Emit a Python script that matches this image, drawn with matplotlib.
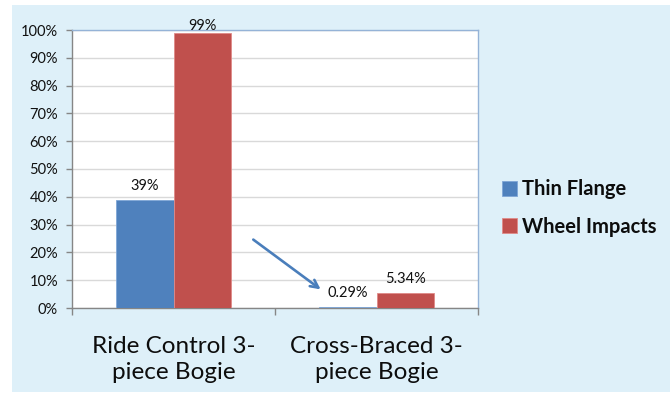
import matplotlib
matplotlib.use("Agg")
import matplotlib.pyplot as plt
from matplotlib.patches import Rectangle
import numpy as np

categories = ["Ride Control 3-\npiece Bogie", "Cross-Braced 3-\npiece Bogie"]
series_names = ["Thin Flange", "Wheel Impacts"]
thin_flange = [0.39, 0.0029]
wheel_impacts = [0.99, 0.0534]
label_text = [["39%", "0.29%"], ["99%", "5.34%"]]
y_ticks = [0.0, 0.1, 0.2, 0.3, 0.4, 0.5, 0.6, 0.7, 0.8, 0.9, 1.0]
y_tick_labels = ["0%", "10%", "20%", "30%", "40%", "50%", "60%", "70%", "80%", "90%", "100%"]

BLUE = "#4F81BD"
RED = "#C0504D"
PANEL = "#DEF0F9"
FONT = "Lato"

plt.rcParams["font.family"] = [FONT, "DejaVu Sans"]

fig = plt.figure(figsize=(6.72, 3.94), dpi=100, facecolor="white")
fig.patches.append(Rectangle((12 / 672, 1 - 392 / 394), 658 / 672, 387 / 394,
                             transform=fig.transFigure, facecolor=PANEL,
                             edgecolor="none", zorder=-5))

ax = fig.add_axes([72 / 672, 1 - 308 / 394, 406 / 672, 278 / 394])
ax.set_facecolor("white")

x = np.arange(len(categories))
w = 0.285
bars_a = ax.bar(x - w / 2, thin_flange, w, color=BLUE, edgecolor="#7FA6D6",
                linewidth=0.6, label=series_names[0], zorder=3)
bars_b = ax.bar(x + w / 2, wheel_impacts, w, color=RED, edgecolor="#E08A88",
                linewidth=0.6, label=series_names[1], zorder=3)

# value labels just above each bar, kept inside the plot area
for offs, vals, texts in ((-w / 2, thin_flange, label_text[0]),
                          (w / 2, wheel_impacts, label_text[1])):
    for xi, v, t in zip(x, vals, texts):
        ax.text(xi + offs, min(v + 0.036, 1.0), t, ha="center", va="baseline",
                fontsize=10.5, color="#111111", zorder=4)

ax.set_xlim(-0.5, 1.5)
ax.set_ylim(0, 1)
ax.set_yticks(y_ticks)
ax.set_yticklabels(y_tick_labels, fontsize=10.5, color="#111111")
ax.yaxis.grid(True, color="#D9D9D9", linewidth=1, zorder=0)
ax.set_axisbelow(True)

# category ticks sit on group boundaries, labels at group centres
ax.set_xticks([-0.5, 0.5, 1.5])
ax.set_xticklabels([])
ax.tick_params(axis="x", length=5, color="#868686", width=1)
ax.tick_params(axis="y", length=4, color="#868686", width=1, pad=6)
for xi, c in zip(x, categories):
    ax.text(xi, -0.1, c, ha="center", va="top", fontsize=17.5,
            color="#0d0d0d", linespacing=1.3, transform=ax.transData)

for s in ("left", "bottom"):
    ax.spines[s].set_color("#868686")
    ax.spines[s].set_linewidth(1)
for s in ("top", "right"):
    ax.spines[s].set_color("#95B3D7")
    ax.spines[s].set_linewidth(1)

ax.annotate("", xy=(0.736, 0.061), xytext=(0.382, 0.252),
            arrowprops=dict(arrowstyle="->", color="#4A7EBB", lw=1.9,
                            mutation_scale=14), zorder=5)

leg = fig.legend(handles=[bars_a, bars_b], labels=series_names,
                 loc="center left", bbox_to_anchor=(502 / 672, 1 - 208 / 394),
                 frameon=False, borderpad=0, borderaxespad=0, handlelength=0.75,
                 handleheight=0.75, handletextpad=0.25, labelspacing=0.85,
                 prop={"weight": "bold", "size": 14.5, "family": [FONT, "DejaVu Sans"]})
for t in leg.get_texts():
    t.set_color("#0d0d0d")

fig.savefig("out.png", dpi=100, facecolor="white")
